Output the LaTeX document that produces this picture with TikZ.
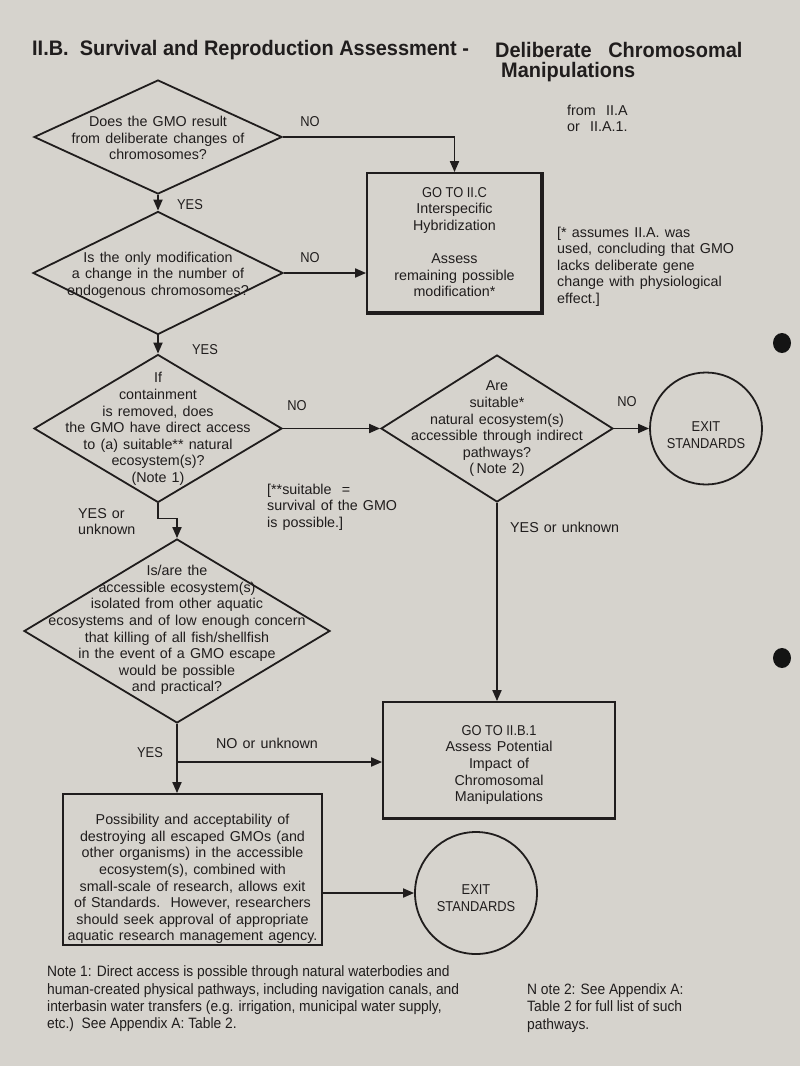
\documentclass[tikz,border=0pt]{standalone}
\usepackage{fontspec}
\setmainfont[WordSpace=1.3]{Liberation Sans}
\newfontfamily\narrowfont[FakeStretch=0.9]{Liberation Sans}
\newfontfamily\notefont[FakeStretch=0.92]{Liberation Sans}
\newfontfamily\titlefont[FakeStretch=0.95]{Liberation Sans}
\usetikzlibrary{shapes.geometric,arrows.meta}
\definecolor{paper}{RGB}{214,211,205}
\definecolor{ink}{RGB}{32,29,29}
\begin{document}
\begin{tikzpicture}[x=1pt,y=-1pt,
  ln/.style={draw=ink,line width=1.8pt},
  arr/.style={ln,-{Triangle[length=11pt,width=9pt]}},
  dia/.style={diamond,draw=ink,line width=1.8pt,inner sep=0pt},
  box/.style={rectangle,draw=ink,line width=1.8pt,inner sep=0pt},
  circ/.style={circle,draw=ink,line width=1.8pt,inner sep=0pt},
  txt/.style={text=ink,align=center,inner sep=0pt,font=\fontsize{14.3}{16.6}\selectfont},
  lab/.style={text=ink,inner sep=0pt,font=\narrowfont\fontsize{14.3}{16.6}\selectfont},
  note/.style={text=ink,inner sep=0pt,align=left,font=\notefont\fontsize{15}{17.3}\selectfont},
  ttl/.style={text=ink,inner sep=0pt,anchor=west,font=\titlefont\bfseries\fontsize{21}{23}\selectfont}]
\fill[paper] (0,0) rectangle (800,1066);
\useasboundingbox (0,0) rectangle (800,1066);
% punch holes
\fill[black!92] (782,343) ellipse [x radius=9, y radius=10];
\fill[black!92] (782,658) ellipse [x radius=9, y radius=10];
% title
\node[ttl] (t1) at (32,50) {II.B.\ \ Survival and Reproduction Assessment -};
\node[ttl] (t2) at (495,50) {Deliberate\ \ \ Chromosomal};
\node[ttl] (t3) at (501,72) {Manipulations};
% shapes
\node[dia,minimum width=248,minimum height=114] (d1) at (158,137) {};
\node[dia,minimum width=250,minimum height=123] (d2) at (158,273) {};
\node[dia,minimum width=248,minimum height=148] (d3) at (158,428.5) {};
\node[dia,minimum width=232,minimum height=147] (d4) at (497,428.5) {};
\node[dia,minimum width=306,minimum height=184] (d5) at (177,631) {};
\node[box,minimum width=175,minimum height=140] (b1) at (454.5,243) {};
\draw[draw=ink,line width=4.2pt] ([xshift=-1pt]b1.north east) -- ([xshift=-1pt,yshift=1pt]b1.south east) -- ([yshift=1pt]b1.south west);
\node[box,minimum width=232,minimum height=116] (b2) at (499,760) {};
\draw[draw=ink,line width=2.8pt] (b2.south east) -- (b2.south west);
\node[box,minimum width=259,minimum height=151] (b3) at (192.5,869.5) {};
\node[circ,minimum size=112] (c1) at (706,428.5) {};
\node[circ,minimum size=122] (c2) at (476,893) {};
% texts
\node[txt] (d1t) at (158,138) {Does the GMO result\\from deliberate changes of\\chromosomes?};
\node[txt] (d2t) at (158,275) {Is the only modification\\a change in the number of\\endogenous chromosomes?};
\node[txt] (d3t) at (158,429) {If\\containment\\is removed, does\\the GMO have direct access\\to (a) suitable** natural\\ecosystem(s)?\\(Note 1)};
\node[txt] (d4t) at (497,429) {Are\\suitable*\\natural ecosystem(s)\\accessible through indirect\\pathways?\\(\,Note 2)};
\node[txt] (d5t) at (177,630) {Is/are the\\accessible ecosystem(s)\\isolated from other aquatic\\ecosystems and of low enough concern\\that killing of all fish/shellfish\\in the event of a GMO escape\\would be possible\\and practical?};
\node[txt] (b1t) at (454.5,242) {{\narrowfont GO TO II.C}\\Interspecific\\Hybridization\\[16.6pt]Assess\\remaining possible\\modification*};
\node[txt] (b2t) at (499,765) {{\narrowfont GO TO II.B.1}\\Assess Potential\\Impact of\\Chromosomal\\Manipulations};
\node[txt] (b3t) at (192.5,879) {Possibility and acceptability of\\destroying all escaped GMOs (and\\other organisms) in the accessible\\ecosystem(s), combined with\\small-scale of research, allows exit\\of Standards.\ \ However, researchers\\should seek approval of appropriate\\aquatic research management agency.};
\node[lab,align=center] (c1t) at (706,435) {EXIT\\STANDARDS};
\node[lab,align=center] (c2t) at (476,898) {EXIT\\STANDARDS};
% connectors
\draw[arr] (d1.east) -| (b1.north);
\draw[arr] (d1.south) -- (d2.north);
\draw[arr] (d2.east) -- (d2.east -| b1.west);
\draw[arr] (d2.south) -- (d3.north);
\draw[arr] (d3.east) -- (d4.west);
\draw[arr] (d4.east) -- (c1.west);
\draw[arr] (d3.south) -- ++(0,15) -| (d5.north);
\draw[arr] (d4.south) -- (d4.south |- b2.north);
\draw[arr] (d5.south) -- (d5.south |- b3.north);
\coordinate (br) at (177,762);
\draw[arr] (br) -- (br -| b2.west);
\draw[arr] (b3.east |- c2.west) -- (c2.west);
% connector labels
\node[lab] (l1) at (310,122) {NO};
\node[lab] (l2) at (190,205) {YES};
\node[lab] (l3) at (310,258) {NO};
\node[lab] (l4) at (205,350) {YES};
\node[lab] (l5) at (297,406) {NO};
\node[lab] (l6) at (627,402) {NO};
\node[txt,align=left,anchor=west] (l7) at (78,521.5) {YES or\\unknown};
\node[txt,anchor=west] (l8) at (510,527) {YES or unknown};
\node[lab] (l9) at (150,753) {YES};
\node[txt] (l10) at (267,743) {NO or unknown};
% side notes
\node[txt,align=left,anchor=west] (n0) at (567,118.5) {from\ \ II.A\\or\ \ II.A.1.};
\node[txt,align=left,anchor=west] (n1) at (557,266.5) {[* assumes II.A. was\\used, concluding that GMO\\lacks deliberate gene\\change with physiological\\effect.]};
\node[txt,align=left,anchor=west] (n2) at (267,507) {[**suitable\ \ =\\survival of the GMO\\is possible.]};
\node[note,anchor=west] (n3) at (47,999) {Note 1: Direct access is possible through natural waterbodies and\\human-created physical pathways, including navigation canals, and\\interbasin water transfers (e.g. irrigation, municipal water supply,\\etc.)\ \ See Appendix A: Table 2.};
\node[note,anchor=west] (n4) at (527,1008) {N ote 2: See Appendix A:\\Table 2 for full list of such\\pathways.};
\end{tikzpicture}
\end{document}
